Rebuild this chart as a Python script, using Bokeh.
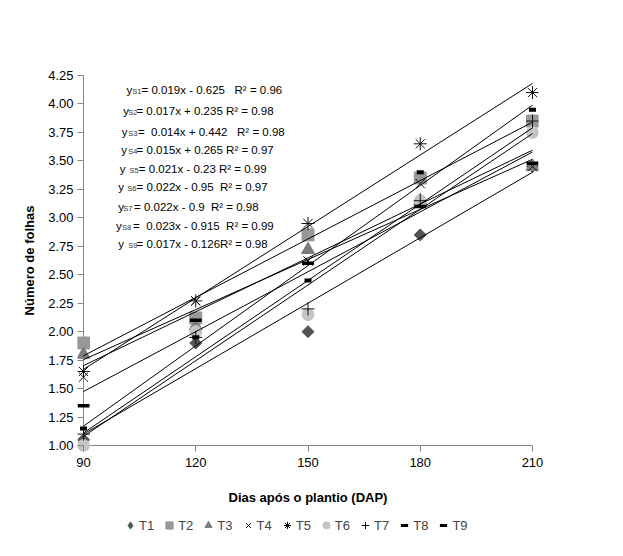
import numpy as np
from bokeh.plotting import figure
from bokeh.layouts import column
from bokeh.models import FixedTicker, NumeralTickFormatter, Legend, LegendItem, Range1d
from bokeh.embed import file_html
from bokeh.resources import INLINE
from bokeh.core.properties import value

# ---------------- data ----------------
DAYS = [90, 120, 150, 180, 210]
T1 = [1.05, 1.90, 2.00, 2.85, 3.45]
T2 = [1.90, 2.12, 2.85, 3.35, 3.85]
T3 = [1.80, 2.05, 2.72, 3.15, 3.45]
T4 = [1.60, 2.27, 2.62, 3.30, 3.45]
T5 = [1.65, 2.27, 2.95, 3.65, 4.10]
T6 = [1.00, 2.00, 2.15, 3.15, 3.75]
T7 = [1.10, 1.95, 2.20, 3.15, 3.85]
T8 = [1.15, 1.95, 2.45, 3.40, 3.95]
T9 = [1.35, 2.10, 2.60, 3.10, 3.48]
SERIES_NAMES = ["T1", "T2", "T3", "T4", "T5", "T6", "T7", "T8", "T9"]
SERIES_VALUES = [T1, T2, T3, T4, T5, T6, T7, T8, T9]

X_TICKS = [90, 120, 150, 180, 210]
Y_TICKS = [1.00, 1.25, 1.50, 1.75, 2.00, 2.25, 2.50, 2.75, 3.00,
           3.25, 3.50, 3.75, 4.00, 4.25]

NB = "\u00a0"
EQ_SUBS = ["S1", "S2", "S3", "S4", "S5", "S6", "S7", "S8", "S9"]
EQ_RESTS = [
    "= 0.019x - 0.625   R\u00b2 = 0.96",
    "= 0.017x + 0.235 R\u00b2 = 0.98",
    "=  0.014x + 0.442   R\u00b2 = 0.98",
    "= 0.015x + 0.265 R\u00b2 = 0.97",
    "= 0.021x - 0.23 R\u00b2 = 0.99",
    "= 0.022x - 0.95  R\u00b2 = 0.97",
    "= 0.022x - 0.9  R\u00b2 = 0.98",
    "=  0.023x - 0.915  R\u00b2 = 0.99",
    "= 0.017x - 0.126R\u00b2 = 0.98",
]
EQ_RESTS = [s.replace(" ", NB) for s in EQ_RESTS]

# ---------------- layout / style ----------------
EQ_X = [101.5, 100.6, 100.2, 100.1, 99.7, 99.3, 99.3, 98.7, 99.3]
EQ_Y = [4.127, 3.942, 3.758, 3.600, 3.433, 3.275, 3.099, 2.932, 2.774]
EQ_SUB_OFF = [5.7, 5.0, 6.7, 7.0, 9.7, 9.0, 5.0, 6.0, 10.0]
EQ_REST_OFF = [15.0, 13.3, 16.3, 15.3, 19.0, 18.3, 15.7, 17.0, 18.3]

Q = np.pi / 4
STYLES = [
    dict(marker="square", size=8.5, angle=Q, fill_color="#545454", line_color="#545454", line_width=1),
    dict(marker="square", size=12, angle=0, fill_color="#989898", line_color="#989898", line_width=1),
    dict(marker="triangle", size=13, angle=0, fill_color="#7c7c7c", line_color="#7c7c7c", line_width=1),
    dict(marker="x", size=13, angle=0, fill_color=None, line_color="#111111", line_width=1),
    dict(marker="asterisk", size=13, angle=0, fill_color=None, line_color="#111111", line_width=1),
    dict(marker="circle", size=12, angle=0, fill_color="#c4c4c4", line_color="#c4c4c4", line_width=1),
    dict(marker="cross", size=13, angle=0, fill_color=None, line_color="#111111", line_width=1),
    dict(marker="dash", size=7, angle=0, fill_color=None, line_color="#000000", line_width=4),
    dict(marker="dash", size=12, angle=0, fill_color=None, line_color="#000000", line_width=3.5),
]
LEGEND_MARKERS = ["diamond", "square", "triangle", "x", "asterisk", "circle", "cross", "dash", "dash"]
LEGEND_LW = [1, 1, 1, 1, 1, 1, 1, 3, 3]

FONT = "Liberation Sans"
AX_COL = "#868686"

px_x = 449.0 / (X_TICKS[-1] - X_TICKS[0])
px_y = 370.0 / (Y_TICKS[-1] - Y_TICKS[0])
pad = 6
p = figure(
    frame_width=461, frame_height=382,
    x_range=Range1d(X_TICKS[0] - pad / px_x, X_TICKS[-1] + pad / px_x),
    y_range=Range1d(Y_TICKS[0] - pad / px_y, Y_TICKS[-1] + pad / px_y),
    output_backend="svg", toolbar_location=None,
    min_border_left=77, min_border_right=69, min_border_top=69, min_border_bottom=60,
    background_fill_color="white", border_fill_color="white",
)
p.outline_line_color = None
p.grid.visible = False

# axis lines drawn at the data origin
p.segment(x0=[X_TICKS[0], X_TICKS[0]], y0=[Y_TICKS[0], Y_TICKS[0]],
          x1=[X_TICKS[0], X_TICKS[-1]], y1=[Y_TICKS[-1], Y_TICKS[0]],
          line_color=AX_COL, line_width=1)

for ax in (p.xaxis[0], p.yaxis[0]):
    ax.axis_line_color = None
    ax.major_tick_in = pad
    ax.major_tick_out = 0
    ax.minor_tick_line_color = None
    ax.major_tick_line_color = AX_COL
    ax.major_label_text_font = FONT
    ax.major_label_text_font_size = "13px"
    ax.major_label_text_color = "black"
    ax.axis_label_text_font = FONT
    ax.axis_label_text_font_size = "13px"
    ax.axis_label_text_font_style = "bold"
    ax.axis_label_text_color = "black"

p.xaxis.ticker = FixedTicker(ticks=X_TICKS)
p.xaxis.axis_label = "Dias após o plantio (DAP)"
p.xaxis.axis_label_standoff = 20
p.xaxis.major_label_standoff = 6

p.yaxis.ticker = FixedTicker(ticks=Y_TICKS)
p.yaxis.formatter = NumeralTickFormatter(format="0.00")
p.yaxis.axis_label = "Número de folhas"
p.yaxis.axis_label_standoff = 8
p.yaxis.major_label_standoff = 4

# markers
for name, vals, st in zip(SERIES_NAMES, SERIES_VALUES, STYLES):
    p.scatter(x=DAYS, y=vals, marker=st["marker"], size=st["size"], angle=st["angle"],
              fill_color=st["fill_color"], line_color=st["line_color"],
              line_width=st["line_width"])

# linear trendlines (least squares fit of each series)
xd = np.array(DAYS, dtype=float)
for vals in SERIES_VALUES:
    slope, icpt = np.polyfit(xd, np.array(vals, dtype=float), 1)
    xs = [DAYS[0], DAYS[-1]]
    p.line(x=xs, y=[slope * v + icpt for v in xs], line_color="black", line_width=1)

# equations
p.text(x=EQ_X, y=EQ_Y, text=["y"] * len(EQ_X), text_font=value(FONT),
       text_font_size="11.5px", text_baseline="middle", text_color="black")
for i in range(len(EQ_X)):
    p.text(x=[EQ_X[i]], y=[EQ_Y[i]], text=[EQ_SUBS[i]], text_font=value(FONT),
           text_font_size="7.5px", text_baseline="middle", text_color="#333333",
           x_offset=EQ_SUB_OFF[i], y_offset=2)
    p.text(x=[EQ_X[i]], y=[EQ_Y[i]], text=[EQ_RESTS[i]], text_font=value(FONT),
           text_font_size="11.5px", text_baseline="middle", text_color="black",
           x_offset=EQ_REST_OFF[i])

# ---------------- legend strip (separate small figure) ----------------
lg = figure(width=607, height=28, output_backend="svg", toolbar_location=None,
            x_range=Range1d(0, 1), y_range=Range1d(0, 1),
            x_axis_location=None, y_axis_location=None,
            min_border_left=0, min_border_right=0, min_border_top=0, min_border_bottom=0,
            background_fill_color="white", border_fill_color="white")
lg.grid.visible = False
lg.outline_line_color = None

items = []
for name, st, mk, lw in zip(SERIES_NAMES, STYLES, LEGEND_MARKERS, LEGEND_LW):
    # a single point outside the strip's range: only its legend swatch is seen
    r = lg.scatter(x=[5], y=[5], marker=mk, size=10,
                   fill_color=st["fill_color"], line_color=st["line_color"], line_width=lw)
    items.append(LegendItem(label=name, renderers=[r]))

legend = Legend(items=items, orientation="horizontal", location=(44, 5))
legend.label_text_font = FONT
legend.label_text_font_size = "13px"
legend.glyph_width = 18
legend.glyph_height = 18
legend.label_width = 0
legend.label_standoff = 0
legend.spacing = 6
legend.padding = 0
legend.margin = 0
legend.border_line_color = None
legend.background_fill_alpha = 0
lg.add_layout(legend, "center")

layout = column(p, lg, spacing=0)
open("out.html", "w").write(file_html(layout, INLINE))
